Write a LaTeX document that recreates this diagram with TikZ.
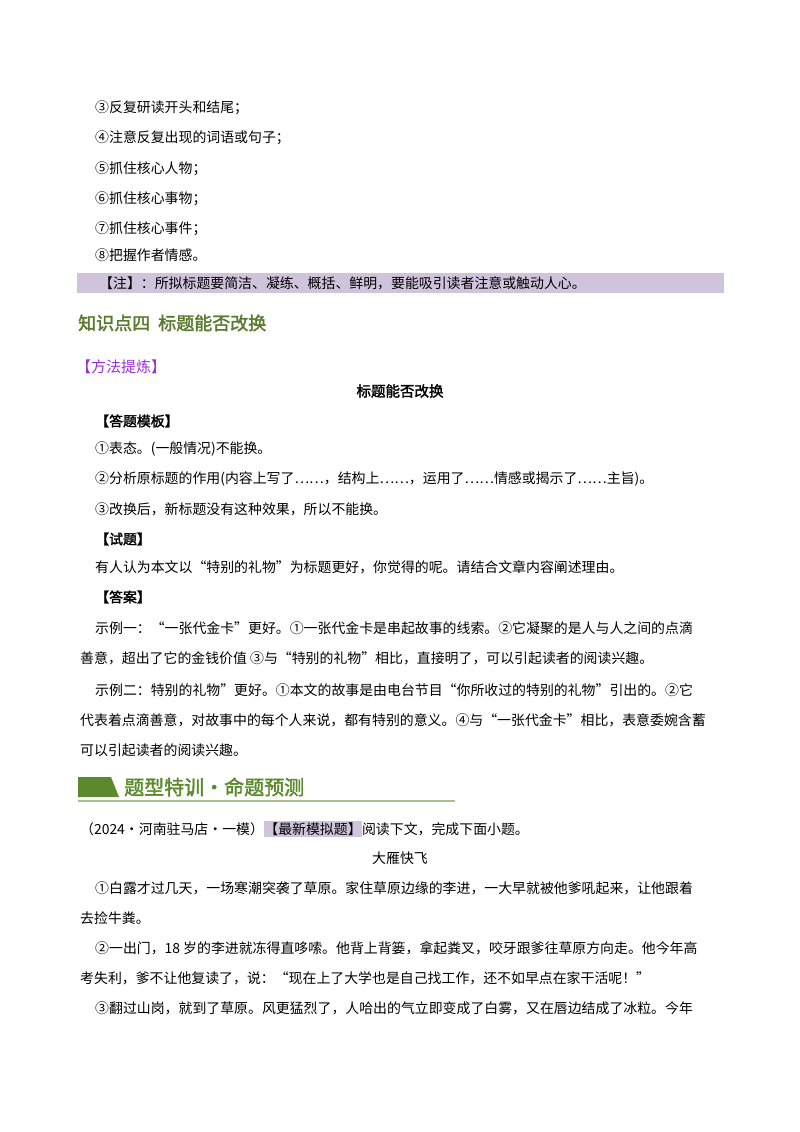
\documentclass[tikz,border=0pt]{standalone}
\usepackage{fontspec}
\setmainfont{Noto Sans CJK SC}
\newfontfamily\cjkb[FakeBold=2]{Noto Sans CJK SC}
\definecolor{notebar}{HTML}{CFC4DC}
\definecolor{headgreen}{HTML}{5A7A2E}
\definecolor{purp}{HTML}{9B30D9}
\definecolor{bargreen}{HTML}{5B8A2C}
\definecolor{rulegreen}{HTML}{A9C08A}
\tikzset{t/.style={anchor=west,inner sep=0pt,font=\fontsize{13.9}{16}\selectfont},
 b/.style={t,font=\fontsize{13.9}{16}\selectfont\bfseries}}
\begin{document}
\begin{tikzpicture}[x=1pt,y=-1pt]
\useasboundingbox (0,0) rectangle (800,1132);
\fill[white] (0,0) rectangle (800,1132);
\node[t] (a1) at (95,108) {③反复研读开头和结尾；};
\node[t] (a2) at (95,138) {④注意反复出现的词语或句子；};
\node[t] (a3) at (95,169) {⑤抓住核心人物；};
\node[t] (a4) at (95,199) {⑥抓住核心事物；};
\node[t] (a5) at (95,229) {⑦抓住核心事件；};
\node[t] (a6) at (95,255) {⑧把握作者情感。};
\fill[notebar] (77,273) rectangle (724,293);
\node[t] (n) at (99,283) {【注】：所拟标题要简洁、凝练、概括、鲜明，要能吸引读者注意或触动人心。};
\node[t,text=headgreen,font=\fontsize{18}{20}\selectfont\cjkb] (h4) at (78,323) {知识点四\ \ 标题能否改换};
\node[t,text=purp,font=\fontsize{15}{17}\selectfont] (ff) at (76,367) {【方法提炼】};
\node[t,anchor=center,font=\fontsize{14.5}{16}\selectfont\cjkb] (tt) at (400,391) {标题能否改换};
\node[t] (m0) at (95,421) {\cjkb 【答题模板】};
\node[t] (m1) at (95,449) {①表态。(一般情况)不能换。};
\node[t] (m2) at (95,479) {②分析原标题的作用(内容上写了……，结构上……，运用了……情感或揭示了……主旨)。};
\node[t] (m3) at (95,509) {③改换后，新标题没有这种效果，所以不能换。};
\node[t] (s0) at (95,539) {\cjkb 【试题】};
\node[t] (s1) at (95,567) {有人认为本文以“特别的礼物”为标题更好，你觉得的呢。请结合文章内容阐述理由。};
\node[t] (d0) at (95,597) {\cjkb 【答案】};
\node[t] (d1) at (95,628) {示例一：“一张代金卡”更好。①一张代金卡是串起故事的线索。②它凝聚的是人与人之间的点滴};
\node[t] (d2) at (80,658) {善意，超出了它的金钱价值\ ③与“特别的礼物”相比，直接明了，可以引起读者的阅读兴趣。};
\node[t] (d3) at (95,690) {示例二：特别的礼物”更好。①本文的故事是由电台节目“你所收过的特别的礼物”引出的。②它};
\node[t] (d4) at (80,720) {代表着点滴善意，对故事中的每个人来说，都有特别的意义。④与“一张代金卡”相比，表意委婉含蓄};
\node[t] (d5) at (80,750) {可以引起读者的阅读兴趣。};
\fill[bargreen] (78,777) -- (111,777) -- (119,797) -- (78,797) -- cycle;
\node[t,text=bargreen,font=\fontsize{20}{22}\selectfont\cjkb] (hd) at (124,787) {题型特训·命题预测};
\draw[rulegreen,line width=1.2pt] (78,801) -- (455,801);
\node[t] (q1) at (80,829) {（2024·河南驻马店·一模）};
\node[t,fill=notebar,inner ysep=2pt] (q2) at (q1.east) {【最新模拟题】};
\node[t] (q3) at (q2.east) {阅读下文，完成下面小题。};
\node[t,anchor=center] (ti) at (400,858) {大雁快飞};
\node[t] (p1) at (95,888) {①白露才过几天，一场寒潮突袭了草原。家住草原边缘的李进，一大早就被他爹吼起来，让他跟着};
\node[t] (p2) at (80,918) {去捡牛粪。};
\node[t] (p3) at (95,948) {②一出门，18 岁的李进就冻得直哆嗦。他背上背篓，拿起粪叉，咬牙跟爹往草原方向走。他今年高};
\node[t] (p4) at (80,978) {考失利，爹不让他复读了，说：“现在上了大学也是自己找工作，还不如早点在家干活呢！”};
\node[t] (p5) at (95,1008) {③翻过山岗，就到了草原。风更猛烈了，人哈出的气立即变成了白雾，又在唇边结成了冰粒。今年};
\end{tikzpicture}
\end{document}
